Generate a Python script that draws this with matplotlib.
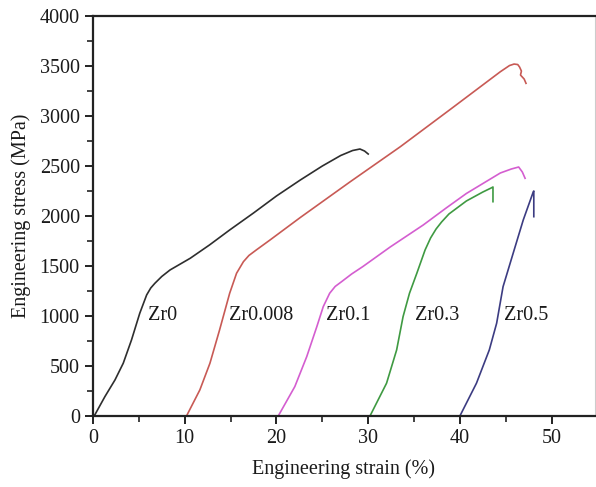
import matplotlib
matplotlib.use("Agg")
import matplotlib.pyplot as plt
from matplotlib.ticker import MultipleLocator

plt.rcParams['font.family'] = ['Liberation Serif', 'DejaVu Serif']

# Engineering stress-strain curves (strain in %, stress in MPa), offset by 10 % each
zr0_strain = [0.0, 0.2, 1.3, 2.4, 3.3, 4.2, 5.1, 5.85, 6.3, 6.75, 7.5, 8.4, 10.6, 12.7, 14.9,
              17.5, 20.0, 22.6, 25.0, 27.0, 28.3, 29.1, 29.6, 30.0]
zr0_stress = [0, 10, 193, 360, 527, 760, 1027, 1210, 1280, 1327, 1395, 1460, 1577, 1710, 1860,
              2030, 2200, 2360, 2500, 2605, 2655, 2670, 2650, 2620]

zr008_strain = [10.2, 11.65, 12.75, 13.8, 14.9, 15.65, 16.4, 17.0, 17.8, 19.3, 22.6, 28.0, 33.5,
                39.0, 44.4, 45.4, 45.9, 46.3, 46.5, 46.7, 46.6, 46.8, 47.0, 47.2]
zr008_stress = [0, 260, 527, 860, 1227, 1427, 1543, 1605, 1660, 1760, 1985, 2340, 2693,
                3070, 3443, 3505, 3520, 3515, 3490, 3450, 3410, 3390, 3370, 3327]

zr01_strain = [20.2, 22.0, 23.3, 24.4, 25.1, 25.8, 26.4, 27.1, 28.2, 29.4, 32.4, 36.0, 38.5,
               40.7, 44.4, 45.6, 46.4, 46.8, 47.1]
zr01_stress = [0, 293, 593, 893, 1093, 1227, 1295, 1343, 1420, 1493, 1690, 1910, 2080,
               2225, 2430, 2470, 2490, 2440, 2377]

zr03_strain = [30.2, 32.0, 33.1, 33.8, 34.5, 35.3, 36.2, 36.8, 37.4, 38.0, 38.8, 40.7, 42.5,
               43.4, 43.6, 43.6]
zr03_stress = [0, 327, 660, 993, 1227, 1427, 1660, 1780, 1870, 1940, 2020, 2150, 2240,
               2280, 2290, 2143]

zr05_strain = [40.0, 41.8, 43.2, 44.0, 44.7, 45.8, 46.9, 48.0, 48.05, 48.05]
zr05_stress = [0, 327, 660, 927, 1293, 1627, 1960, 2243, 2250, 1993]

series = [
    ("Zr0", zr0_strain, zr0_stress, "#2e2e2e", 6.0),
    ("Zr0.008", zr008_strain, zr008_stress, "#c85a55", 14.8),
    ("Zr0.1", zr01_strain, zr01_stress, "#d45ed0", 25.4),
    ("Zr0.3", zr03_strain, zr03_stress, "#3f9a42", 35.1),
    ("Zr0.5", zr05_strain, zr05_stress, "#3c3c82", 44.8),
]
label_stress = 1000

fig = plt.figure(figsize=(5.96, 4.87), dpi=100)
ax = fig.add_axes([0.156, 0.146, 0.842, 0.821])

for name, x, y, color, lx in series:
    ax.plot(x, y, color=color, lw=1.2, solid_joinstyle='round')
    ax.text(lx, label_stress, name, fontsize=14.5, va='center', ha='left', color='#1a1a1a')

ax.set_xlim(0, 54.7)
ax.set_ylim(0, 4000)
ax.xaxis.set_major_locator(MultipleLocator(10))
ax.xaxis.set_minor_locator(MultipleLocator(5))
ax.yaxis.set_major_locator(MultipleLocator(500))
ax.yaxis.set_minor_locator(MultipleLocator(250))

for side in ['left', 'bottom', 'top']:
    ax.spines[side].set_linewidth(1.6)
    ax.spines[side].set_color('#222222')
ax.spines['right'].set_linewidth(0.8)
ax.spines['right'].set_color('#cccccc')

ax.tick_params(which='major', direction='out', length=6, width=1.4, labelsize=14.5,
               colors='#222222', labelcolor='#1a1a1a', top=False, right=False)
ax.tick_params(which='minor', direction='out', length=4, width=1.2, colors='#222222',
               top=False, right=False)

ax.set_xlabel("Engineering strain (%)", fontsize=14.5, color='#1a1a1a', labelpad=8)
ax.set_ylabel("Engineering stress (MPa)", fontsize=14.5, color='#1a1a1a', labelpad=6)

fig.savefig("out.png", dpi=100)
